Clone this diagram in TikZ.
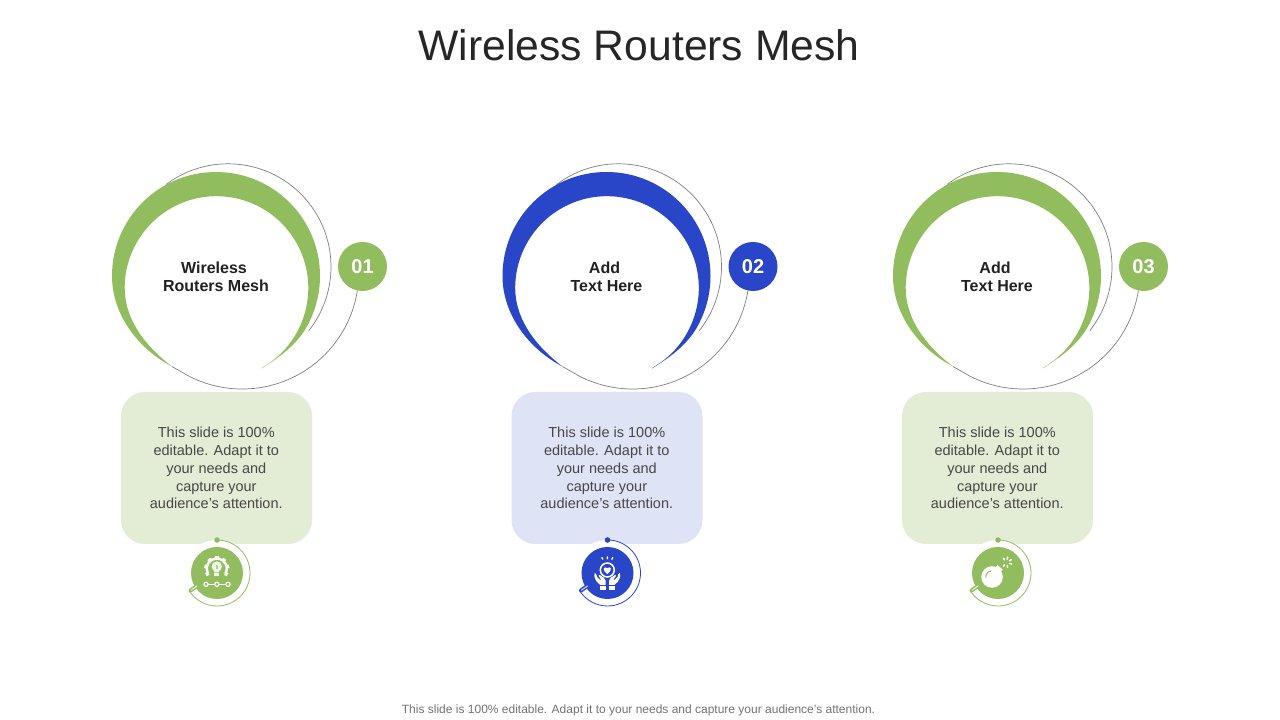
\documentclass[tikz,border=0pt]{standalone}
\usepackage{fontspec}
\usetikzlibrary{calc}
\setmainfont{Liberation Sans}
\definecolor{grn}{HTML}{92BD5E}
\definecolor{blu}{HTML}{2A46C8}
\definecolor{lgrn}{HTML}{E3EDD6}
\definecolor{lblu}{HTML}{DFE3F6}
\definecolor{thin}{HTML}{7F7F7F}
\tikzset{
  titletext/.style={font=\fontsize{42.7}{50}\selectfont,text=black!85},
  foot/.style={font=\fontsize{12}{14}\selectfont,text=black!55},
  headlabel/.style={font=\fontsize{16}{18}\selectfont\bfseries,text=black!87,align=center},
  bodytext/.style={font=\fontsize{14.5}{17.9}\selectfont,text=black!72,align=center},
  numdisc/.style={circle,minimum size=49pt,inner sep=0pt,font=\fontsize{20}{22}\selectfont\bfseries,text=white},
  hair/.style={draw=thin,line width=0.7pt},
  iconline/.style={draw=white,line width=1.2pt,line cap=round,line join=round},
}
\newcommand{\slidecolumn}[6]{%
 \begin{scope}[shift={(#2,0)}]
  \draw[hair] (228,720-266.8) ++(127:103) arc[start angle=127,end angle=-38.3,radius=103];
  \fill[#3] (172,720-366.5) .. controls (140,720-350) and (112,720-316) .. (112,720-276)
        arc[start angle=180,end angle=-30,radius=104]
        .. controls (296,720-345) and (280,720-357) .. (261.5,720-368.5)
        -- (262.4,720-367.5)
        arc[start angle=-60,end angle=180,radius=91.8]
        .. controls (124.7,720-315) and (140,720-342) .. (172,720-366.5) -- cycle;
  \node[numdisc,fill=#3] (n#1) at (362.5,720-266.5) {#5};
  \draw[hair] (n#1.-102) arc[start angle=-9,end angle=-118,radius=116.6] -- (172,720-366.5);
  \node[headlabel] (h#1) at (216,720-276.5) {#6};
  \node[rectangle,rounded corners=24pt,fill=#4,minimum width=191pt,minimum height=152pt,inner sep=0pt] (b#1) at (216.5,720-468) {};
  \node[bodytext] (t#1) at (216.3,720-468) {This slide is 100\%\\editable. Adapt it to\\your needs and\\capture your\\audience's attention.};
  \fill[white] (217,720-573.5) circle[radius=33.5];
  \node[circle,fill=#3,minimum size=52pt,inner sep=0pt] (d#1) at (217,720-573) {};
  \draw[#3,line width=0.8pt] (217,720-540) arc[start angle=90,end angle=-145,radius=33];
  \fill[#3] (217,720-540) circle[radius=2.8];
  \draw[#3,line width=4pt,line cap=round] (190.5,720-590.5) -- (197.5,720-585.5);
  \draw[white!70!#3,line width=1.2pt,line cap=round] (191,720-590.2) -- (197,720-586);
 \end{scope}}
\begin{document}
\begin{tikzpicture}[x=1pt,y=1pt]
\useasboundingbox (0,0) rectangle (1280,720);
\fill[white] (0,0) rectangle (1280,720);
\node[titletext] (title) at (639,720-45.5) {Wireless Routers Mesh};
\node[foot] (footer) at (638.5,720-710) {This slide is 100\% editable. Adapt it to your needs and capture your audience's attention.};
\slidecolumn{1}{0}{grn}{lgrn}{01}{Wireless\hspace*{4pt}\\Routers Mesh}
\slidecolumn{2}{390.5}{blu}{lblu}{02}{Add\hspace*{4pt}\\Text Here}
\slidecolumn{3}{781}{grn}{lgrn}{03}{Add\hspace*{4pt}\\Text Here}
% icon 1: gear, bulb and linked dots
\begin{scope}[shift={(216.8,720-568.5)}]
  \foreach \a in {-120,-80,-40,0,40,80,120}{\fill[white,rotate=\a] (-1.8,9.5) rectangle (1.8,12.5);}
  \draw[white,line width=2.4pt] (-8.7,-5) arc[start angle=210,end angle=-30,radius=10];
  \fill[white!85!grn] (0,2) circle[radius=5.2];
  \fill[white!85!grn] (-2.6,-2) rectangle (2.6,-7.5);
  \fill[grn!70!white] (-0.8,3.5) rectangle (0.8,-1);
  \draw[grn!60!white,line width=0.6pt] (-2.6,-4) -- (2.6,-4);
  \foreach \x in {-10.8,0,11.2}{\draw[white,line width=1.2pt] (\x,-15.8) circle[radius=2.1];}
  \draw[white,line width=1pt] (-8.7,-15.8) -- (-2.1,-15.8) (2.1,-15.8) -- (9.1,-15.8);
\end{scope}
% icon 2: hands holding a heart
\begin{scope}[shift={(607.3,720-570)}]
  \draw[white,line width=1.5pt] (0,0) circle[radius=7];
  \fill[white] (0,-4) .. controls (-6,0.5) and (-3.5,4.4) .. (0,1.8) .. controls (3.5,4.4) and (6,0.5) .. (0,-4) -- cycle;
  \draw[iconline,line width=1.4pt] (-4.6,10.8) -- (-5.4,12.4) (0,11.2) -- (0,13) (4.6,10.8) -- (5.4,12.4);
  \foreach \s in {-1,1}{
   \begin{scope}[xscale=\s]
    \fill[white,even odd rule] (12.6,-2.8) .. controls (13.6,-7) and (12.4,-11) .. (7,-15)
      -- (1.8,-15) -- (1.8,-10.5) .. controls (2,-8) and (4,-7.5) .. (8,-4.8)
      -- (8.6,-6) -- (6.2,-9.4) -- (7,-10) -- (10.3,-7)
      .. controls (10.6,-5) and (11,-3.4) .. (12.6,-2.8) -- cycle;
    \fill[white] (1.8,-16) rectangle (7.6,-19.8);
   \end{scope}}
\end{scope}
% icon 3: bomb
\begin{scope}[shift={(992,720-577)}]
  \fill[white] (0,0) circle[radius=10.8];
  \fill[white,rotate=-40] (-3.4,9) rectangle (3.4,12.6);
  \draw[grn,line width=1.1pt,line cap=round] (-6.2,-0.5) arc[start angle=185,end angle=100,radius=6.2];
  \foreach \a in {-20,30,80,130,230,280}{\draw[white,line width=1.5pt,line cap=round] ($(14.7,14.7)+(\a:3.2)$) -- ($(14.7,14.7)+(\a:5.2)$);}
\end{scope}
\end{tikzpicture}
\end{document}
